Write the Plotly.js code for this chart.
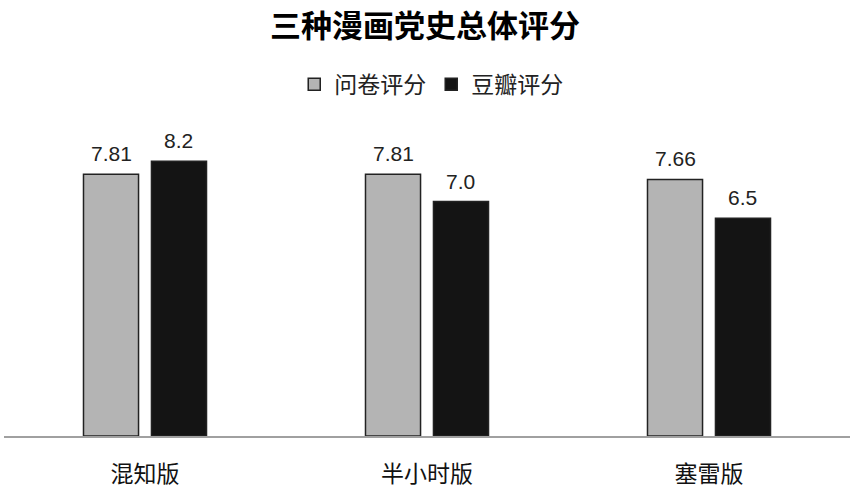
<!DOCTYPE html>
<html>
<head>
<meta charset="utf-8">
<script src="https://cdn.plot.ly/plotly-3.0.1.min.js"></script>
<style>
  html, body { margin: 0; padding: 0; background: #fff; }
  #chart { width: 850px; height: 488px; }
</style>
</head>
<body>
<div id="chart"></div>
<script>
const categories = ['混知版', '半小时版', '塞雷版'];
const survey_scores = [7.81, 7.81, 7.66];
const douban_scores = [8.2, 7.0, 6.5];
const survey_labels = ['7.81', '7.81', '7.66'];
const douban_labels = ['8.2', '7.0', '6.5'];

const cjk = '"Noto Sans CJK SC", "Noto Sans", sans-serif';
const num_font = '"Liberation Sans", "Noto Sans", sans-serif';

const build_chart = () => {
    const chart = document.querySelector('#chart');

    var data = [
        {
            x: categories,
            y: survey_scores,
            name: '问卷评分',
            type: 'bar',
            marker: { color: '#b4b4b4', line: { color: '#222', width: 1.5 } },
            hoverinfo: 'none'
        },
        {
            x: categories,
            y: douban_scores,
            name: '豆瓣评分',
            type: 'bar',
            marker: { color: '#141414', line: { color: '#222', width: 1.5 } },
            hoverinfo: 'none'
        }
    ];

    // value labels above each bar
    var annotations = [];
    categories.forEach((c, i) => {
        annotations.push({
            x: c, y: survey_scores[i], text: survey_labels[i],
            xref: 'x', yref: 'y', xshift: -33.5, yshift: 7,
            yanchor: 'bottom', showarrow: false,
            font: { family: num_font, size: 21, color: '#222' }
        });
        annotations.push({
            x: c, y: douban_scores[i], text: douban_labels[i],
            xref: 'x', yref: 'y', xshift: 33.5, yshift: 7,
            yanchor: 'bottom', showarrow: false,
            font: { family: num_font, size: 21, color: '#222' }
        });
    });

    var layout = {
        width: 850,
        height: 488,
        margin: { l: 4, r: 0, t: 101, b: 52 },
        paper_bgcolor: '#fff',
        plot_bgcolor: '#fff',
        title: {
            text: '<b>三种漫画党史总体评分</b>',
            font: { family: cjk, size: 31, color: '#000' },
            x: 0.5, xanchor: 'center',
            y: 0.947, yanchor: 'middle'
        },
        barmode: 'group',
        bargap: 0.518,
        bargroupgap: 0.19,
        showlegend: true,
        legend: {
            orientation: 'h',
            x: 0.505, xanchor: 'center',
            y: 1.05, yanchor: 'middle',
            font: { family: cjk, size: 23, color: '#222' },
            itemwidth: 30,
            traceorder: 'normal'
        },
        xaxis: {
            showline: true,
            linecolor: '#a0a0a0',
            linewidth: 2,
            ticks: '',
            tickfont: { family: cjk, size: 23, color: '#111' },
            ticklabelstandoff: 16
        },
        yaxis: {
            range: [0, 10],
            visible: false,
            showgrid: false,
            zeroline: false
        },
        annotations: annotations
    };

    Plotly.newPlot(chart, data, layout, { displayModeBar: false, staticPlot: true });
};

document.addEventListener('DOMContentLoaded', build_chart);
</script>
</body>
</html>
